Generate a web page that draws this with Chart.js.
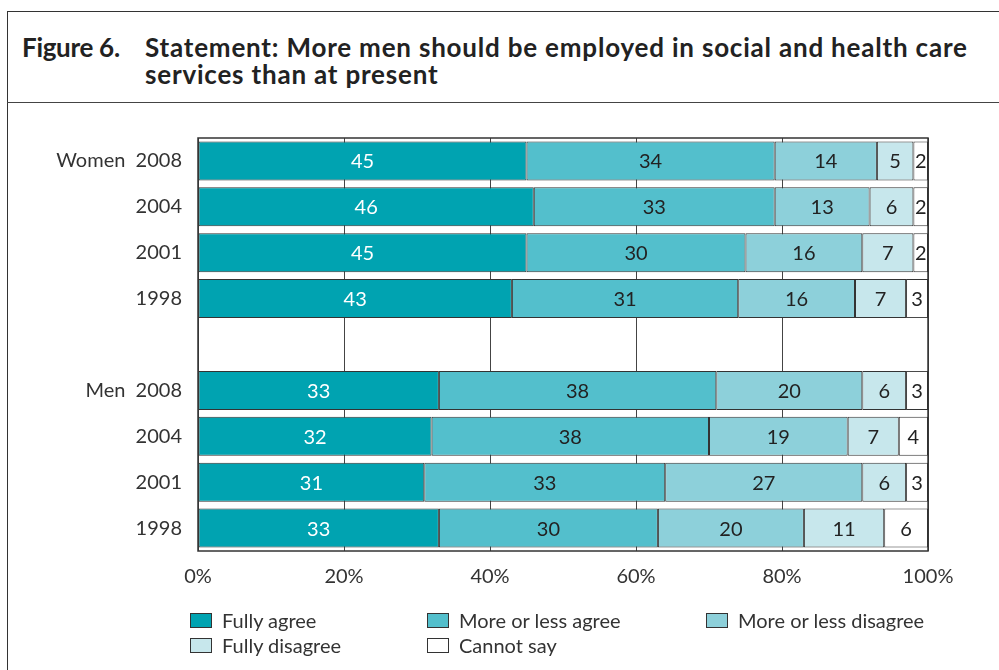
<!DOCTYPE html>
<html>
<head>
<meta charset="utf-8">
<script src="https://cdn.jsdelivr.net/npm/chart.js@4/dist/chart.umd.min.js"></script>
<style>
  html, body { margin: 0; padding: 0; background: #fff; }
  #page { position: relative; width: 999px; height: 670px; overflow: hidden; font-family: Lato, "Open Sans", sans-serif; }
  #frameTop { position: absolute; left: 7px; top: 11px; right: 0; height: 0; border-top: 1.5px solid #333; }
  #frameLeft { position: absolute; left: 7px; top: 11px; bottom: 0; width: 0; border-left: 1.5px solid #333; }
  #frameSep { position: absolute; left: 7px; top: 102px; right: 0; height: 0; border-top: 1.5px solid #444; }
  .title { position: absolute; font-weight: 700; font-size: 26px; line-height: 27px; color: #222; }
  #titleNum { left: 22px; top: 34px; letter-spacing: -0.3px; }
  #titleTxt { left: 145px; top: 34px; width: 850px; letter-spacing: 0.8px; }
  #chartBox { position: absolute; left: 0; top: 104px; width: 999px; height: 496px; }
  #legend { position: absolute; left: 0; top: 0; width: 999px; height: 670px; pointer-events: none; }
  .lg { position: absolute; display: flex; align-items: center; font-size: 20px; color: #333; height: 22px; }
  .lg .box { width: 20px; height: 13px; border: 1px solid #333; margin-right: 10px; }
</style>
</head>
<body>
<div id="page">
  <div id="frameTop"></div>
  <div id="frameLeft"></div>
  <div id="frameSep"></div>
  <div class="title" id="titleNum">Figure 6.</div>
  <div class="title" id="titleTxt">Statement: More men should be employed in social and health care<br>services than at present</div>
  <div id="chartBox"><canvas id="chart"></canvas></div>
  <div id="legend"></div>
</div>
<script>
// Survey rows (an empty row separates women and men)
const categories = ["Women  2008", "2004", "2001", "1998", "", "Men  2008", "2004", "2001", "1998"];
const fullyAgree        = [45, 46, 45, 43, null, 33, 32, 31, 33];
const moreOrLessAgree   = [34, 33, 30, 31, null, 38, 38, 33, 30];
const moreOrLessDisagree= [14, 13, 16, 16, null, 20, 19, 27, 20];
const fullyDisagree     = [5, 6, 7, 7, null, 6, 7, 6, 11];
const cannotSay         = [2, 2, 2, 3, null, 3, 4, 3, 6];
const seriesNames = ["Fully agree", "More or less agree", "More or less disagree", "Fully disagree", "Cannot say"];
const xTicks = [0, 20, 40, 60, 80, 100];

const colors = ["#00a3b1", "#53bfcc", "#8dd0da", "#c7e7ec", "#ffffff"];
const labelColors = ["#ffffff", "#222222", "#222222", "#222222", "#222222"];
const allSeries = [fullyAgree, moreOrLessAgree, moreOrLessDisagree, fullyDisagree, cannotSay];

const datasets = allSeries.map((vals, i) => ({
  label: seriesNames[i],
  data: vals,
  backgroundColor: colors[i],
  borderColor: "#333",
  borderWidth: 1,
  borderSkipped: false,
  barPercentage: 0.85,
  categoryPercentage: 1.0,
  labelColor: labelColors[i]
}));

// Frame around the plotting area
const areaFrame = {
  id: "areaFrame",
  afterDraw(chart) {
    const { ctx, chartArea: a } = chart;
    ctx.save();
    ctx.strokeStyle = "#333";
    ctx.lineWidth = 1.5;
    ctx.strokeRect(a.left, a.top, a.right - a.left, a.bottom - a.top);
    ctx.restore();
  }
};

// Value printed at the middle of each segment
const segmentLabels = {
  id: "segmentLabels",
  afterDatasetsDraw(chart) {
    const { ctx } = chart;
    ctx.save();
    ctx.font = "20px Lato, 'Open Sans', sans-serif";
    ctx.textAlign = "center";
    ctx.textBaseline = "middle";
    chart.data.datasets.forEach((ds, di) => {
      const meta = chart.getDatasetMeta(di);
      meta.data.forEach((bar, i) => {
        const v = ds.data[i];
        if (v == null) return;
        const cx = (bar.x + bar.base) / 2;
        ctx.fillStyle = ds.labelColor;
        ctx.fillText(String(v), cx, bar.y + 1);
      });
    });
    ctx.restore();
  }
};

const chart = new Chart(document.getElementById("chart"), {
  type: "bar",
  data: { labels: categories, datasets },
  options: {
    indexAxis: "y",
    responsive: true,
    maintainAspectRatio: false,
    animation: false,
    layout: { padding: { top: 34, right: 71, bottom: 0, left: 0 } },
    plugins: { legend: { display: false }, tooltip: { enabled: false } },
    scales: {
      x: {
        stacked: true,
        min: 0,
        max: 100,
        afterBuildTicks(scale) { scale.ticks = xTicks.map(v => ({ value: v })); },
        afterFit(scale) { scale.height = 49; },
        grid: { color: "#444", lineWidth: 1, drawTicks: false },
        border: { display: false },
        ticks: {
          padding: 14,
          color: "#333",
          font: { family: "Lato, 'Open Sans', sans-serif", size: 20 },
          callback: v => v + "%"
        }
      },
      y: {
        stacked: true,
        afterFit(scale) { scale.width = 198; },
        grid: { display: false, drawTicks: false },
        border: { display: false },
        ticks: {
          padding: 16,
          color: "#333",
          font: { family: "Lato, 'Open Sans', sans-serif", size: 20 }
        }
      }
    }
  },
  plugins: [areaFrame, segmentLabels]
});

// Legend laid out in three columns, built from the chart's datasets
const legendPos = [
  { left: 190, top: 609 }, { left: 427, top: 609 }, { left: 706, top: 609 },
  { left: 190, top: 634 }, { left: 427, top: 634 }
];
const legendEl = document.getElementById("legend");
chart.data.datasets.forEach((ds, i) => {
  const item = document.createElement("div");
  item.className = "lg";
  item.style.left = legendPos[i].left + "px";
  item.style.top = legendPos[i].top + "px";
  const box = document.createElement("div");
  box.className = "box";
  box.style.background = ds.backgroundColor;
  const txt = document.createElement("span");
  txt.textContent = ds.label;
  item.appendChild(box);
  item.appendChild(txt);
  legendEl.appendChild(item);
});
</script>
</body>
</html>
